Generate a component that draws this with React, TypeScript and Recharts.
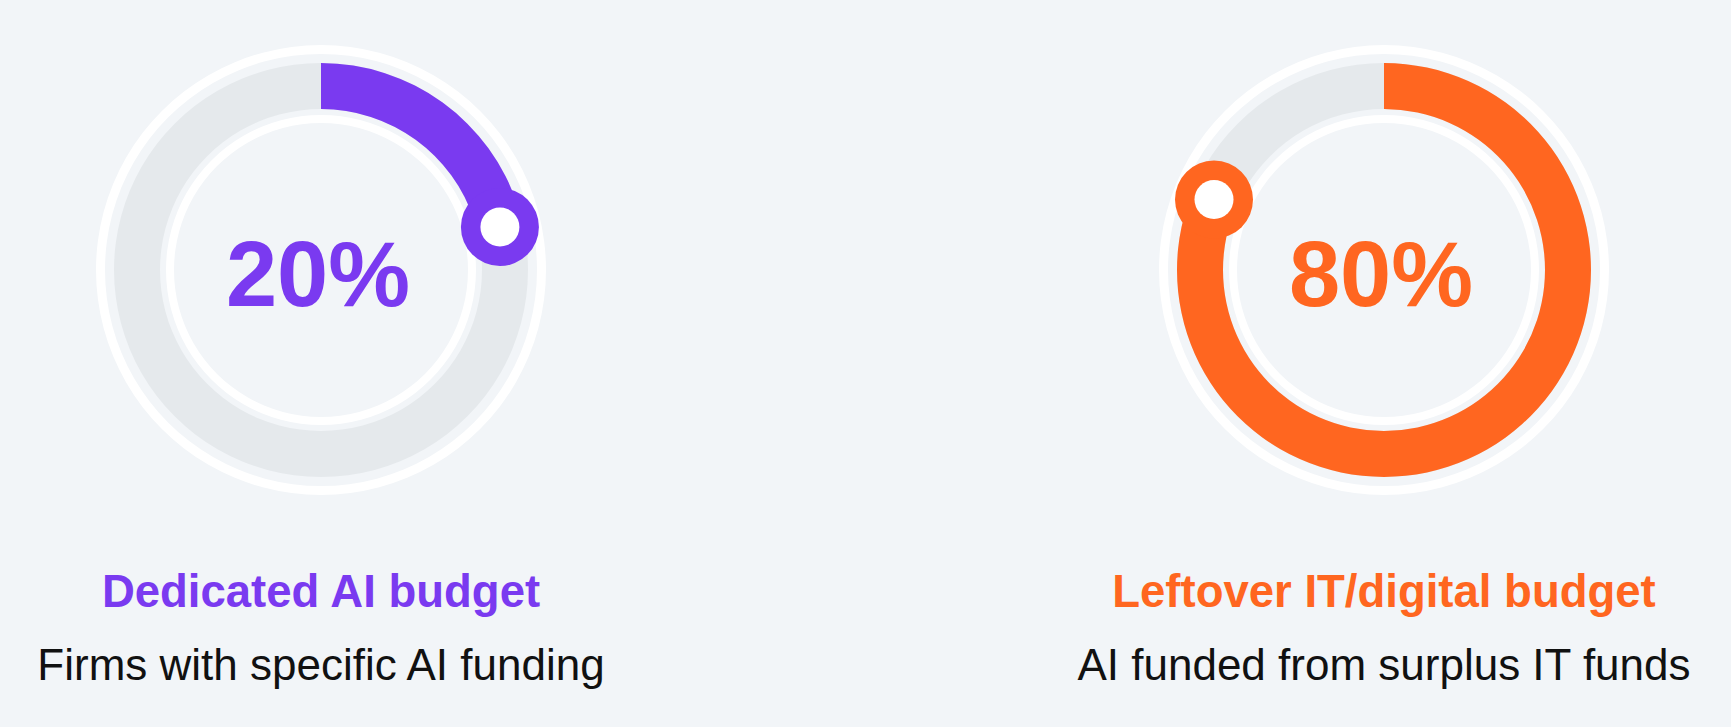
import React from 'react'
import { PieChart, Pie, Cell } from 'recharts'

// shares of firms by how AI gets funded
const CATEGORIES = ['Dedicated AI budget', 'Leftover IT/digital budget']
const SHARES = [20, 80]
const SUBTITLES = ['Firms with specific AI funding', 'AI funded from surplus IT funds']
const COLORS = ['#7A3AF0', '#FF6620']

const BG = '#F2F5F8'
const TRACK = '#E5E9EC'
const FONT = '"Liberation Sans", Arial, Helvetica, sans-serif'

const SIZE = 480
const CENTERS_X = [321, 1384]
const CENTER_Y = 270
const DOT_LAG = 4.5

const FULL = [{ value: 1 }]

function renderMarker(color: string, share: number) {
  return (props: any) => {
    if (props.index !== 0) return null
    const { cx, cy, innerRadius, outerRadius, endAngle } = props
    const r = (innerRadius + outerRadius) / 2
    const a = ((endAngle - DOT_LAG) * Math.PI) / 180
    const x = cx + r * Math.cos(a)
    const y = cy - r * Math.sin(a)
    return (
      <g>
        <text
          x={cx - 3}
          y={cy + 36}
          textAnchor="middle"
          fill={color}
          fontSize={92}
          fontWeight={700}
          fontFamily={FONT}
        >
          {share}%
        </text>
        <circle cx={x} cy={y} r={39} fill={color} />
        <circle cx={x} cy={y} r={19.5} fill="#fff" />
      </g>
    )
  }
}

function Gauge({ share, color }: { share: number; color: string }) {
  const data = [
    { name: 'share', value: share },
    { name: 'rest', value: 100 - share },
  ]
  return (
    <PieChart width={SIZE} height={SIZE} margin={{ top: 0, right: 0, bottom: 0, left: 0 }}>
      <Pie data={FULL} dataKey="value" innerRadius={216} outerRadius={225} fill="#fff" stroke="none" isAnimationActive={false} />
      <Pie data={FULL} dataKey="value" innerRadius={161} outerRadius={207} fill={TRACK} stroke="none" isAnimationActive={false} />
      <Pie data={FULL} dataKey="value" innerRadius={147} outerRadius={155} fill="#fff" stroke="none" isAnimationActive={false} />
      <Pie
        data={data}
        dataKey="value"
        startAngle={90}
        endAngle={-270}
        innerRadius={161}
        outerRadius={207}
        stroke="none"
        labelLine={false}
        label={renderMarker(color, share)}
        isAnimationActive={false}
      >
        <Cell fill={color} />
        <Cell fill="transparent" />
      </Pie>
    </PieChart>
  )
}

export default function App() {
  return (
    <div style={{ position: 'relative', width: 1731, height: 727, background: BG, overflow: 'hidden' }}>
      <style>{`body{margin:0;background:${BG};}`}</style>
      {SHARES.map((s, i) => (
        <div
          key={CATEGORIES[i]}
          style={{ position: 'absolute', left: CENTERS_X[i] - SIZE / 2, top: CENTER_Y - SIZE / 2 }}
        >
          <Gauge share={s} color={COLORS[i]} />
        </div>
      ))}
      <svg width={1731} height={727} style={{ position: 'absolute', left: 0, top: 0, pointerEvents: 'none' }}>
        {CATEGORIES.map((c, i) => (
          <g key={c}>
            <text x={CENTERS_X[i]} y={607} textAnchor="middle" fill={COLORS[i]} fontSize={45.5} fontWeight={700} fontFamily={FONT}>
              {c}
            </text>
            <text x={CENTERS_X[i]} y={680} textAnchor="middle" fill="#111" fontSize={44} fontFamily={FONT}>
              {SUBTITLES[i]}
            </text>
          </g>
        ))}
      </svg>
    </div>
  )
}
